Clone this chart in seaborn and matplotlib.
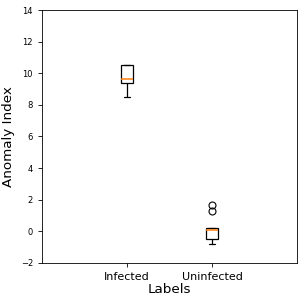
import pandas as pd
import matplotlib
matplotlib.use('Agg')
import matplotlib.pyplot as plt
import seaborn as sns

# Valores
infected = [8.5, 9.4, 9.66, 10.5, 10.5]
uninfected = [-0.78, -0.6, -0.5, -0.3, 0.07, 0.15, 0.2, 1.3, 1.65]
categorias = ['Infected', 'Uninfected']

data = pd.DataFrame({
    'Labels': [categorias[0]] * len(infected) + [categorias[1]] * len(uninfected),
    'Anomaly Index': infected + uninfected,
})

sns.set_style('white')
plt.rcParams['font.family'] = ['DejaVu Sans']

fig = plt.figure(figsize=(3.04, 3.04), dpi=100)
ax = fig.add_axes([0.138, 0.135, 0.839, 0.832])
sns.boxplot(data=data, x='Labels', y='Anomaly Index', order=categorias, width=0.15,
            color='white', linecolor='black', linewidth=0.9,
            medianprops={'color': '#ff7f0e', 'linewidth': 1.1},
            flierprops={'marker': 'o', 'markersize': 5, 'markerfacecolor': 'none',
                        'markeredgecolor': 'black', 'markeredgewidth': 0.8},
            ax=ax)

# asegurar que las medianas sean naranjas
for line in ax.lines:
    xs = line.get_xdata()
    ys = line.get_ydata()
    if len(xs) == 2 and ys[0] == ys[1] and line.get_marker() in ('None', None, ''):
        if abs((xs[1] - xs[0]) - 0.15) < 1e-6 and ys[0] in (9.66, 0.07):
            line.set_color('#ff7f0e')
            line.set_zorder(5)

ax.set_xlim(-1, 2)
ax.set_ylim(-2, 14)
ax.set_yticks(range(-2, 15, 2))
ax.tick_params(axis='y', labelsize=6, length=3, width=0.6, left=True,
               colors='black')
ax.tick_params(axis='x', labelsize=8, length=3, width=0.6, bottom=True,
               colors='black')
ax.set_xlabel('Labels', fontsize=9.7, labelpad=1, color='black')
ax.set_ylabel('Anomaly Index', fontsize=9.7, color='black')
for s in ax.spines.values():
    s.set_color('black')
    s.set_linewidth(0.6)
plt.savefig('out.png', dpi=100)
